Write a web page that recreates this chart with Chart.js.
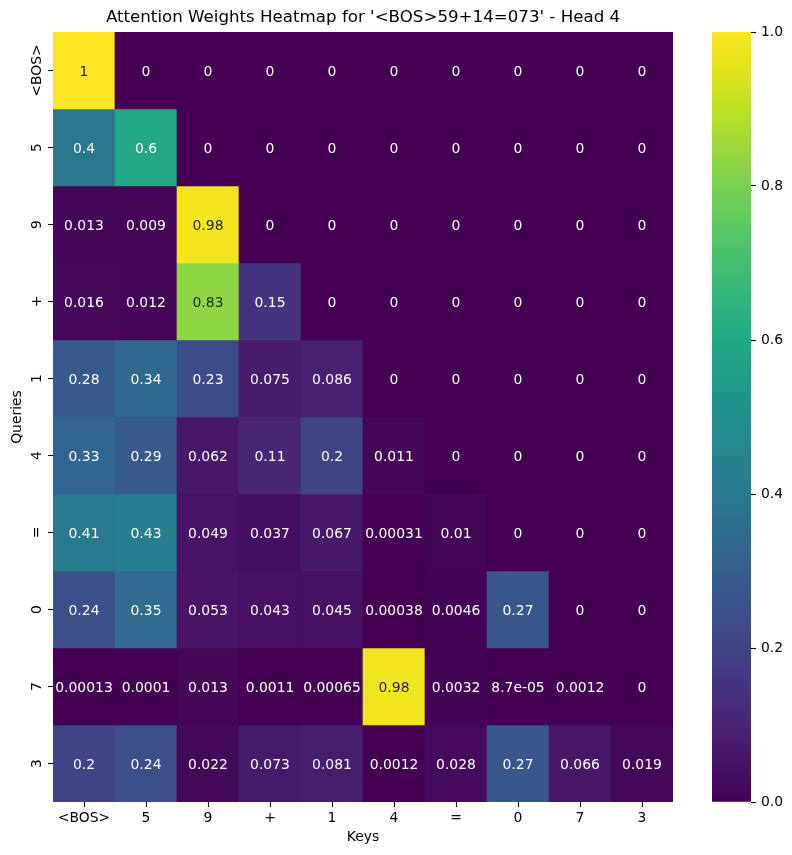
<!doctype html>
<html lang="en">
<head>
  <meta charset="utf-8" />
  <title>Attention Weights Heatmap</title>
  <style>
    body { margin: 0; background: #fff; }
    #heat { position: absolute; left: 0; top: 0; width: 700px; height: 855px; }
    #cbar { position: absolute; left: 700px; top: 0; width: 92px; height: 855px; }
  </style>
</head>
<body>
  <canvas id="heat" width="700" height="855"></canvas>
  <canvas id="cbar" width="92" height="855"></canvas>
  <script src="https://cdn.jsdelivr.net/npm/chart.js"></script>
  <script>
    // tokens on both axes
    const keys = ['<BOS>', '5', '9', '+', '1', '4', '=', '0', '7', '3'];
    const queries = ['<BOS>', '5', '9', '+', '1', '4', '=', '0', '7', '3'];

    // one row of attention weights per query token
    const rowBOS = [1, 0, 0, 0, 0, 0, 0, 0, 0, 0];
    const row5 = [0.4, 0.6, 0, 0, 0, 0, 0, 0, 0, 0];
    const row9 = [0.013, 0.009, 0.98, 0, 0, 0, 0, 0, 0, 0];
    const rowPlus = [0.016, 0.012, 0.83, 0.15, 0, 0, 0, 0, 0, 0];
    const row1 = [0.28, 0.34, 0.23, 0.075, 0.086, 0, 0, 0, 0, 0];
    const row4 = [0.33, 0.29, 0.062, 0.11, 0.2, 0.011, 0, 0, 0, 0];
    const rowEq = [0.41, 0.43, 0.049, 0.037, 0.067, 0.00031, 0.01, 0, 0, 0];
    const row0 = [0.24, 0.35, 0.053, 0.043, 0.045, 0.00038, 0.0046, 0.27, 0, 0];
    const row7 = [0.00013, 0.0001, 0.013, 0.0011, 0.00065, 0.98, 0.0032, 8.7e-05, 0.0012, 0];
    const row3 = [0.2, 0.24, 0.022, 0.073, 0.081, 0.0012, 0.028, 0.27, 0.066, 0.019];
    const weights = [rowBOS, row5, row9, rowPlus, row1, row4, rowEq, row0, row7, row3];

    const cbTicks = [0, 0.2, 0.4, 0.6, 0.8, 1.0];

    const FONT = 'DejaVu Sans';
    const VIRIDIS = ['#440154', '#471365', '#482475', '#463480', '#414487', '#3b528b', '#355f8d',
      '#2f6c8e', '#2a788e', '#25848e', '#21918c', '#1e9c89', '#22a884', '#2fb47c', '#44bf70',
      '#5ec962', '#7ad151', '#9bd93c', '#bddf26', '#dfe318', '#fde725'];

    function hexRgb(h) {
      return [1, 3, 5].map(i => parseInt(h.slice(i, i + 2), 16));
    }
    function viridis(v) {
      const t = Math.max(0, Math.min(1, v)) * (VIRIDIS.length - 1);
      const i = Math.min(Math.floor(t), VIRIDIS.length - 2);
      const f = t - i;
      const a = hexRgb(VIRIDIS[i]), b = hexRgb(VIRIDIS[i + 1]);
      const c = a.map((x, k) => Math.round(x + (b[k] - x) * f));
      return `rgb(${c[0]},${c[1]},${c[2]})`;
    }
    function luminance(v) {
      const t = Math.max(0, Math.min(1, v)) * (VIRIDIS.length - 1);
      const i = Math.min(Math.floor(t), VIRIDIS.length - 2);
      const f = t - i;
      const a = hexRgb(VIRIDIS[i]), b = hexRgb(VIRIDIS[i + 1]);
      const lin = a.map((x, k) => {
        const s = (x + (b[k] - x) * f) / 255;
        return s <= 0.03928 ? s / 12.92 : Math.pow((s + 0.055) / 1.055, 2.4);
      });
      return 0.2126 * lin[0] + 0.7152 * lin[1] + 0.0722 * lin[2];
    }
    // same as python's '.2g'
    function fmt(v) {
      if (v === 0) return '0';
      const e = Math.floor(Math.log10(Math.abs(v)));
      if (e < -4 || e >= 2) {
        const parts = v.toExponential(1).split('e');
        const n = parseInt(parts[1]);
        return String(parseFloat(parts[0])) + 'e' + (n < 0 ? '-' : '+') + String(Math.abs(n)).padStart(2, '0');
      }
      return String(parseFloat(v.toPrecision(2)));
    }

    const annotate = {
      id: 'annotate',
      afterDatasetsDraw(chart) {
        const { ctx, scales: { x, y } } = chart;
        ctx.save();
        ctx.font = `13.9px "${FONT}"`;
        ctx.textAlign = 'center';
        ctx.textBaseline = 'alphabetic';
        weights.forEach((row, r) => row.forEach((v, c) => {
          ctx.fillStyle = luminance(v) > 0.408 ? '#262626' : '#ffffff';
          ctx.fillText(fmt(v), x.getPixelForValue(c), y.getPixelForValue(r) + 5);
        }));
        // query labels are rotated like matplotlib's
        ctx.fillStyle = '#000';
        y.ticks.forEach(t => {
          ctx.save();
          ctx.translate(y.right - 12.5, y.getPixelForValue(t.value));
          ctx.rotate(-Math.PI / 2);
          ctx.fillText(queries[t.value], 0, 0);
          ctx.restore();
        });
        ctx.restore();
      }
    };

    const tickGrid = { drawOnChartArea: false, tickLength: 5, tickColor: '#000', tickWidth: 1.1 };

    new Chart(document.querySelector('#heat'), {
      type: 'bar',
      data: {
        labels: keys,
        datasets: weights.map((row, r) => ({
          data: row.map(() => [r - 0.5, r + 0.5]),
          backgroundColor: row.map(viridis),
          grouped: false,
          categoryPercentage: 1,
          barPercentage: 1,
          borderWidth: 0
        }))
      },
      options: {
        responsive: false,
        animation: false,
        layout: { padding: { top: 0, left: 0, right: 27, bottom: 0 } },
        plugins: {
          legend: { display: false },
          tooltip: { enabled: false },
          title: {
            display: true,
            text: "Attention Weights Heatmap for '<BOS>59+14=073' - Head 4",
            fullSize: false,
            color: '#000',
            font: { family: FONT, size: 16.67, weight: 'normal', lineHeight: 1.2 },
            padding: { top: 8, bottom: 4 }
          }
        },
        scales: {
          x: {
            type: 'category',
            offset: true,
            grid: Object.assign({ offset: false }, tickGrid),
            border: { display: false },
            ticks: { color: '#000', font: { family: FONT, size: 13.9 }, padding: 3, maxRotation: 0, autoSkip: false },
            title: { display: true, text: 'Keys', color: '#000', font: { family: FONT, size: 13.9 }, padding: { top: 0, bottom: 9 } },
            afterFit: s => { s.height = 53; }
          },
          y: {
            type: 'linear',
            min: -0.5,
            max: 9.5,
            reverse: true,
            afterBuildTicks: s => { s.ticks = queries.map((q, i) => ({ value: i })); },
            grid: tickGrid,
            border: { display: false },
            ticks: { display: false },
            title: { display: true, text: 'Queries', color: '#000', font: { family: FONT, size: 13.9 }, padding: { top: 9, bottom: 0 } },
            afterFit: s => { s.width = 53; }
          }
        }
      },
      plugins: [annotate]
    });

    function cbGradient(chart) {
      const { ctx, chartArea } = chart;
      if (!chartArea) return VIRIDIS[0];
      const g = ctx.createLinearGradient(0, chartArea.bottom, 0, chartArea.top);
      VIRIDIS.forEach((c, i) => g.addColorStop(i / (VIRIDIS.length - 1), c));
      return g;
    }

    new Chart(document.querySelector('#cbar'), {
      type: 'bar',
      data: {
        labels: [''],
        datasets: [{
          data: [[0, 1]],
          backgroundColor: c => cbGradient(c.chart),
          categoryPercentage: 1,
          barPercentage: 1,
          borderWidth: 0
        }]
      },
      options: {
        responsive: false,
        animation: false,
        layout: { padding: { top: 32, left: 12, right: 0, bottom: 53 } },
        plugins: { legend: { display: false }, tooltip: { enabled: false } },
        scales: {
          x: { display: false },
          y: {
            position: 'right',
            min: 0,
            max: 1,
            afterBuildTicks: s => { s.ticks = cbTicks.map(v => ({ value: v })); },
            ticks: { color: '#000', font: { family: FONT, size: 13.9 }, padding: 5, callback: v => v.toFixed(1) },
            grid: tickGrid,
            border: { display: false },
            afterFit: s => { s.width = 41; }
          }
        }
      }
    });
  </script>
</body>
</html>
